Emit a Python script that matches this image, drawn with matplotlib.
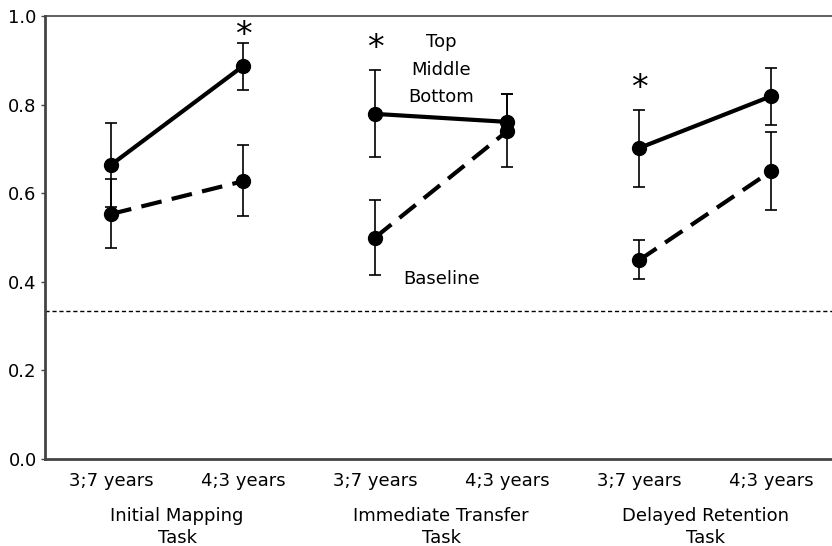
import matplotlib.pyplot as plt
import matplotlib.transforms as mtransforms

# data
tasks = ["Initial Mapping\nTask", "Immediate Transfer\nTask", "Delayed Retention\nTask"]
ages = ["3;7 years", "4;3 years"]

solid_vals = [0.664, 0.887, 0.779, 0.761, 0.702, 0.819]
solid_err_lo = [0.095, 0.054, 0.098, 0.02, 0.089, 0.066]
solid_err_hi = [0.095, 0.053, 0.098, 0.063, 0.086, 0.064]

dashed_vals = [0.553, 0.627, 0.500, 0.740, 0.449, 0.650]
dashed_err_lo = [0.077, 0.078, 0.085, 0.081, 0.043, 0.088]
dashed_err_hi = [0.080, 0.082, 0.085, 0.084, 0.045, 0.088]

baseline = 0.334
star_idx = [1, 2, 4]  # positions marked with an asterisk

fig = plt.figure(figsize=(8.32, 5.46), dpi=100)
ax = fig.add_axes([45 / 832, 87 / 546, 1 - 45 / 832, (459 - 16) / 546])

xs = list(range(len(solid_vals)))

for g in range(len(tasks)):
    sl = slice(2 * g, 2 * g + 2)
    ax.errorbar(xs[sl], solid_vals[sl], yerr=[solid_err_lo[sl], solid_err_hi[sl]],
                color="black", linestyle="-", linewidth=3, marker="o", markersize=10,
                ecolor="black", elinewidth=1.2, capsize=4.5, capthick=1.2)
    ax.errorbar(xs[sl], dashed_vals[sl], yerr=[dashed_err_lo[sl], dashed_err_hi[sl]],
                color="black", linestyle=(0, (5, 2.5)), linewidth=3, marker="o", markersize=10,
                ecolor="black", elinewidth=1.2, capsize=4.5, capthick=1.2)

ax.axhline(baseline, color="black", linewidth=1, linestyle=(0, (3, 2)))

# asterisks sit a bit above the upper error cap (kept inside the frame)
for i in star_idx:
    top = solid_vals[i] + solid_err_hi[i]
    centre = min(top + 0.062, 0.968)
    ax.text(xs[i], centre - 0.05, "*", ha="center", va="bottom", fontsize=24)

ax.text(2.5, 0.941, "Top", ha="center", va="center", fontsize=13)
ax.text(2.5, 0.878, "Middle", ha="center", va="center", fontsize=13)
ax.text(2.5, 0.817, "Bottom", ha="center", va="center", fontsize=13)
ax.text(2.5, 0.406, "Baseline", ha="center", va="center", fontsize=13)

ax.set_xlim(-0.5, 5.46)
ax.set_ylim(0, 1.0)
ax.set_yticks([0.0, 0.2, 0.4, 0.6, 0.8, 1.0])
ax.set_yticklabels(["0.0", "0.2", "0.4", "0.6", "0.8", "1.0"], fontsize=13)
ax.set_xticks(xs)
ax.set_xticklabels(ages * len(tasks), fontsize=13)
ax.tick_params(axis="x", length=0, pad=9)
ax.tick_params(axis="y", length=3, width=1, color="#444444", pad=3)

trans = mtransforms.blended_transform_factory(ax.transData, ax.transAxes)
for g, name in enumerate(tasks):
    ax.text(2 * g + 0.5, -0.109, name, transform=trans, ha="center", va="top",
            fontsize=13, linespacing=1.25)

for side in ["left", "bottom", "top"]:
    ax.spines[side].set_color("#444444")
ax.spines["left"].set_linewidth(2)
ax.spines["bottom"].set_linewidth(2)
ax.spines["top"].set_linewidth(1.2)
ax.spines["right"].set_visible(False)

fig.savefig("out.png", dpi=100)
